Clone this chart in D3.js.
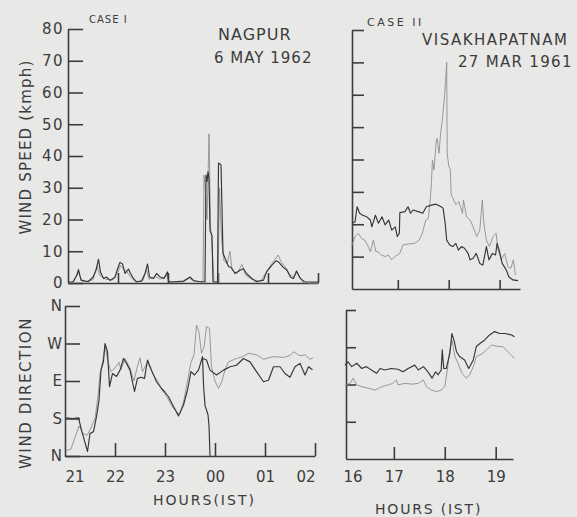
<!DOCTYPE html>
<html>
<head>
<meta charset="utf-8">
<script src="https://cdn.jsdelivr.net/npm/d3@7"></script>
<style>
  html, body { margin: 0; padding: 0; background: #e8e8e6; }
  svg { display: block; }
</style>
</head>
<body>
<div id="chart"></div>
<script>
// tick values and labels
var speedTicks = [0, 10, 20, 30, 40, 50, 60, 70, 80];
var dirTicks = [0, 1, 2, 3, 4];
var dirLabels = ["N", "S", "E", "W", "N"];
var nagpurHours = [21, 22, 23, 24, 25, 26];
var nagpurHourLabels = ["21", "22", "23", "00", "01", "02"];
var vizagHours = [16, 17, 18, 19];
var vizagHourLabels = ["16", "17", "18", "19"];

// case I - Nagpur, wind speed (kmph), [hour, value], hours past midnight run on as 24, 25 ...
var nagpurSpeedDark = [[21.0,0.3],[21.1,0.4],[21.18,2.5],[21.21,4.2],[21.26,0.9],[21.4,0.4],[21.5,1.8],[21.56,4],[21.61,7.5],[21.65,3.4],[21.71,1.4],[21.77,1.9],[21.84,0.8],[21.94,1.8],[21.99,4.4],[22.04,6.5],[22.09,6],[22.14,3],[22.21,4.4],[22.25,3],[22.31,1.4],[22.37,0.4],[22.47,0.6],[22.54,3],[22.59,6],[22.63,1.9],[22.71,1.4],[22.77,3],[22.84,1.9],[22.92,1.4],[22.99,3.5],[23.01,0.4],[23.14,0.4],[23.31,0.6],[23.44,1.9],[23.51,0.8],[23.64,0.4],[23.74,0.4],[23.76,34],[23.78,32],[23.8,35],[23.82,33],[23.84,16.5],[23.88,15],[23.9,0.4],[23.99,0.3],[24.01,37.8],[24.06,37.2],[24.1,9.4],[24.14,7.8],[24.21,5.2],[24.27,4.8],[24.34,3],[24.44,4],[24.51,4.5],[24.57,3],[24.67,1.5],[24.77,0.4],[24.91,0.9],[24.97,3.5],[25.07,5.5],[25.16,7],[25.22,6.5],[25.3,5],[25.38,4],[25.45,1.8],[25.51,1.4],[25.57,3.8],[25.63,1.8],[25.71,0.4],[25.9,0.3],[26.0,0.3]];
var nagpurSpeedLight = [[21.0,0],[21.12,0.5],[21.2,3.8],[21.24,2],[21.3,0.3],[21.5,1],[21.58,5.5],[21.63,2.5],[21.75,1.2],[21.9,1],[22.0,3.5],[22.05,5.5],[22.1,4.5],[22.18,3.5],[22.24,2.2],[22.35,0.3],[22.5,0.8],[22.57,4.2],[22.62,1.2],[22.75,2],[22.85,1.2],[22.97,2.5],[23.03,0.2],[23.3,0.3],[23.43,1.5],[23.52,0.5],[23.7,0.4],[23.72,34],[23.74,31],[23.78,20],[23.82,47],[23.85,18],[23.88,12],[23.92,0.3],[24.0,0.3],[24.03,30],[24.07,14],[24.12,7],[24.18,6],[24.24,10],[24.28,4],[24.38,3],[24.48,5.8],[24.55,2.5],[24.7,1],[24.85,0.6],[24.95,3],[25.05,5.5],[25.12,7],[25.2,8.8],[25.27,6.5],[25.37,4.5],[25.44,2.5],[25.52,2],[25.58,3.5],[25.66,1.2],[25.8,0],[26.0,0]];

// case I - Nagpur, wind direction, 0 = N, 1 = S, 2 = E, 3 = W, 4 = N ; null = pen lift
var nagpurDirDark = [[21.03,1.02],[21.15,1.0],[21.27,1.02],[21.33,0.69],[21.45,0.12],[21.5,0.6],[21.57,0.65],[21.63,1.05],[21.68,1.49],[21.72,2.29],[21.77,2.52],[21.8,3.0],[21.85,2.78],[21.89,1.85],[21.95,2.2],[22.03,2.12],[22.1,2.29],[22.17,2.6],[22.23,2.47],[22.3,2.29],[22.39,1.72],[22.45,2.07],[22.52,2.1],[22.59,2.07],[22.65,2.56],[22.73,2.29],[22.83,1.98],[22.93,1.8],[23.0,1.7],[23.07,1.58],[23.17,1.32],[23.27,1.07],[23.37,1.36],[23.45,1.76],[23.52,2.25],[23.59,2.16],[23.67,2.29],[23.75,2.65],[23.77,1.9],[23.8,1.35],[23.86,1.1],[23.88,0.8],[23.9,0],null,[23.76,2.6],[23.83,2.56],[23.9,2.29],[24.03,2.16],[24.17,2.29],[24.3,2.38],[24.43,2.42],[24.57,2.6],[24.7,2.51],[24.83,2.25],[24.97,1.98],[25.07,2.02],[25.17,2.38],[25.3,2.38],[25.4,2.2],[25.5,2.1],[25.6,2.38],[25.7,2.47],[25.8,2.16],[25.87,2.38],[25.95,2.3]];
var nagpurDirLight = [[21.03,0.15],[21.12,0.18],[21.2,0.5],[21.28,0.8],[21.36,0.6],[21.44,0.55],[21.52,0.75],[21.6,1.0],[21.66,1.6],[21.7,2.2],[21.75,2.5],[21.8,2.95],[21.86,2.5],[21.92,2.25],[22.0,2.35],[22.08,2.5],[22.12,2.3],[22.2,2.6],[22.3,2.35],[22.38,2.0],[22.44,2.35],[22.5,2.62],[22.55,2.25],[22.65,2.5],[22.75,2.2],[22.85,2.0],[22.95,1.75],[23.05,1.55],[23.15,1.3],[23.25,1.15],[23.3,1.12],[23.38,1.5],[23.45,2.0],[23.52,2.5],[23.58,2.7],[23.63,3.49],[23.68,3.3],[23.73,2.74],[23.78,2.9],[23.83,3.45],[23.89,3.4],[23.93,2.38],[24.0,2.0],[24.07,1.8],[24.14,2.0],[24.2,2.3],[24.27,2.51],[24.43,2.6],[24.55,2.65],[24.67,2.74],[24.83,2.7],[24.97,2.58],[25.08,2.62],[25.17,2.65],[25.37,2.63],[25.5,2.68],[25.57,2.78],[25.7,2.67],[25.8,2.7],[25.9,2.58],[25.96,2.62]];

// case II - Visakhapatnam, wind speed (kmph)
var vizagSpeedDark = [[16.1,20.3],[16.16,20.8],[16.2,25.4],[16.25,23.4],[16.31,22.8],[16.39,22.3],[16.46,21.3],[16.49,19.2],[16.56,22.8],[16.62,20.3],[16.69,22.3],[16.75,19.8],[16.82,21.3],[16.88,18.2],[16.95,19.2],[16.99,16.2],[17.03,17.2],[17.04,23.6],[17.14,23.9],[17.2,25.4],[17.25,23.4],[17.3,24.4],[17.4,23.9],[17.49,23.4],[17.56,25.4],[17.66,25.9],[17.75,26.2],[17.85,25.4],[17.89,24.9],[17.93,20.3],[17.96,15.1],[18.02,13.6],[18.08,13.1],[18.14,14.1],[18.19,12.0],[18.25,13.1],[18.31,12.6],[18.38,11.0],[18.42,9.0],[18.48,9.5],[18.54,11.0],[18.61,7.9],[18.67,7.4],[18.74,13.1],[18.79,9.0],[18.86,11.0],[18.92,10.5],[18.95,14.1],[19.0,11.5],[19.05,7.9],[19.13,5.9],[19.18,3.8],[19.26,2.8],[19.36,2.6]];
var vizagSpeedLight = [[16.09,13.1],[16.16,16.2],[16.22,17.2],[16.29,15.6],[16.35,15.1],[16.42,13.1],[16.46,11.5],[16.52,15.1],[16.57,11.5],[16.61,11.5],[16.68,10.5],[16.75,10.0],[16.81,10.5],[16.88,9.0],[16.94,10.0],[17.04,11.0],[17.1,13.6],[17.2,13.9],[17.33,14.1],[17.42,15.1],[17.48,17.2],[17.55,21.3],[17.6,21.8],[17.63,26.4],[17.66,32.6],[17.68,39.8],[17.71,36.7],[17.75,45.0],[17.77,46.5],[17.81,41.9],[17.84,48.0],[17.88,53],[17.92,60],[17.96,70],[17.97,42],[18.0,38],[18.03,37],[18.05,29],[18.07,28.5],[18.14,26],[18.2,27],[18.27,23.4],[18.29,27.5],[18.35,22.3],[18.42,21.3],[18.48,19.2],[18.55,16.2],[18.61,18.2],[18.66,27.5],[18.69,20.3],[18.74,15.1],[18.8,13.1],[18.87,16.2],[18.93,17.2],[18.97,12.0],[19.03,9.0],[19.1,11.0],[19.16,6.9],[19.22,6.4],[19.27,9.0],[19.31,4.3]];

// case II - Visakhapatnam, wind direction
var vizagDirDark = [[16.04,2.52],[16.1,2.61],[16.17,2.48],[16.27,2.57],[16.37,2.43],[16.46,2.48],[16.56,2.39],[16.66,2.3],[16.73,2.43],[16.82,2.39],[16.95,2.43],[17.08,2.41],[17.18,2.34],[17.28,2.43],[17.41,2.52],[17.48,2.39],[17.58,2.48],[17.67,2.34],[17.75,2.17],[17.82,2.34],[17.87,2.26],[17.93,2.39],[17.95,2.93],[17.98,2.43],[18.03,2.43],[18.1,2.84],[18.14,3.37],[18.18,3.19],[18.23,2.88],[18.29,2.75],[18.39,2.66],[18.47,2.43],[18.56,2.66],[18.62,3.02],[18.69,3.1],[18.78,3.19],[18.88,3.33],[18.98,3.42],[19.08,3.37],[19.18,3.37],[19.31,3.33],[19.37,3.28]];
var vizagDirLight = [[16.04,1.99],[16.14,2.03],[16.2,2.17],[16.27,1.99],[16.37,1.94],[16.5,1.9],[16.63,1.85],[16.76,1.94],[16.89,1.99],[16.98,2.03],[17.05,2.12],[17.08,1.99],[17.22,2.03],[17.35,2.01],[17.48,2.03],[17.58,2.12],[17.64,1.94],[17.74,1.85],[17.84,1.81],[17.93,1.85],[18.0,1.94],[18.05,2.39],[18.1,2.93],[18.14,3.19],[18.2,2.75],[18.26,2.57],[18.34,2.3],[18.42,2.17],[18.49,2.26],[18.56,2.48],[18.62,2.75],[18.69,2.79],[18.75,2.84],[18.82,2.93],[18.92,3.06],[19.05,3.02],[19.14,3.02],[19.24,2.88],[19.37,2.7]];

var ink = "#3c3c3c";
var darkPen = "#363636";
var lightPen = "#8e8e8e";
var fontFamily = '"DejaVu Sans", sans-serif';

var svg = d3.select("#chart")
    .append("svg")
    .attr("width", 577)
    .attr("height", 517)
    .style("background", "#e8e8e6");

// scales, one pair per panel (the panels are slightly out of line in the print)
var xNagTop = d3.scaleLinear().domain([21, 26]).range([68, 318]);
var ySpeedL = d3.scaleLinear().domain([0, 80]).range([283, 29]);
var xNagBot = d3.scaleLinear().domain([21, 26]).range([65, 315]);
var yDirL = d3.scaleLinear().domain([0, 4]).range([456, 306]);
var xVizTop = d3.scaleLinear().domain([16.1, 19.4]).range([352, 520]);
var ySpeedR = d3.scaleLinear().domain([0, 80]).range([289, 30]);
var xVizBot = d3.scaleLinear().domain([16.06, 19.34]).range([346, 513]);
var yDirR = d3.scaleLinear().domain([0, 4]).range([459, 310]);

function styleAxis(g, size) {
    g.attr("font-family", fontFamily).attr("font-size", size);
    g.selectAll("path, line").attr("stroke", ink).attr("stroke-width", 1.6);
    g.selectAll("text").attr("fill", ink);
}

function drawSeries(data, x, y, color, width) {
    var line = d3.line()
        .defined(function (d) { return d !== null; })
        .x(function (d) { return x(d[0]); })
        .y(function (d) { return y(d[1]); });
    svg.append("path")
        .datum(data)
        .attr("d", line)
        .attr("fill", "none")
        .attr("stroke", color)
        .attr("stroke-width", width)
        .attr("stroke-linejoin", "round");
}

// ---- case I, wind speed
svg.append("g")
    .attr("transform", "translate(68,0)")
    .call(d3.axisLeft(ySpeedL).tickValues(speedTicks).tickSizeInner(-15).tickSizeOuter(0).tickPadding(4))
    .call(styleAxis, 15)
    .selectAll("text").attr("letter-spacing", 1.5);

svg.append("g")
    .attr("transform", "translate(0,283)")
    .call(d3.axisBottom(xNagTop).tickValues(nagpurHours.slice(1)).tickSizeInner(-10).tickSizeOuter(0).tickFormat(""))
    .call(styleAxis, 15);

drawSeries(nagpurSpeedLight, xNagTop, ySpeedL, lightPen, 0.9);
drawSeries(nagpurSpeedDark, xNagTop, ySpeedL, darkPen, 1.15);

// ---- case I, wind direction
svg.append("g")
    .attr("transform", "translate(65,0)")
    .call(d3.axisLeft(yDirL).tickValues(dirTicks).tickSizeInner(-15).tickSizeOuter(0).tickPadding(3)
        .tickFormat(function (d) { return dirLabels[d]; }))
    .call(styleAxis, 15);

var nagX = svg.append("g")
    .attr("transform", "translate(0,456)")
    .call(d3.axisBottom(xNagBot).tickValues(nagpurHours).tickSizeInner(-13).tickSizeOuter(0).tickPadding(15)
        .tickFormat(function (d, i) { return nagpurHourLabels[i]; }))
    .call(styleAxis, 15);
nagX.selectAll(".tick").filter(function (d, i) { return i === 0; }).select("line").remove();
nagX.selectAll(".tick text")
    .attr("text-anchor", function (d, i) { return i === 0 ? "start" : (i === nagpurHours.length - 1 ? "end" : "middle"); });

drawSeries(nagpurDirLight, xNagBot, yDirL, lightPen, 0.9);
drawSeries(nagpurDirDark, xNagBot, yDirL, darkPen, 1.15);

// ---- case II, wind speed (no labels of its own)
svg.append("g")
    .attr("transform", "translate(352,0)")
    .call(d3.axisLeft(ySpeedR).tickValues(speedTicks.slice(1)).tickSizeInner(-12).tickSizeOuter(0).tickFormat(""))
    .call(styleAxis, 15);

svg.append("g")
    .attr("transform", "translate(0,289)")
    .call(d3.axisBottom(xVizTop).tickValues(vizagHours.slice(1)).tickSizeInner(-9).tickSizeOuter(0).tickFormat(""))
    .call(styleAxis, 15);

drawSeries(vizagSpeedLight, xVizTop, ySpeedR, lightPen, 0.9);
drawSeries(vizagSpeedDark, xVizTop, ySpeedR, darkPen, 1.15);

// ---- case II, wind direction
svg.append("g")
    .attr("transform", "translate(346,0)")
    .call(d3.axisLeft(yDirR).tickValues(dirTicks.slice(1)).tickSizeInner(-10).tickSizeOuter(0).tickFormat(""))
    .call(styleAxis, 15);

var vizX = svg.append("g")
    .attr("transform", "translate(0,459)")
    .call(d3.axisBottom(xVizBot).tickValues(vizagHours).tickSizeInner(-12).tickSizeOuter(0).tickPadding(12)
        .tickFormat(function (d, i) { return vizagHourLabels[i]; }))
    .call(styleAxis, 15);
vizX.selectAll(".tick").filter(function (d, i) { return i === 0; }).select("line").remove();
vizX.selectAll(".tick text")
    .attr("text-anchor", function (d, i) { return i === 0 ? "start" : "middle"; });

drawSeries(vizagDirLight, xVizBot, yDirR, lightPen, 0.9);
drawSeries(vizagDirDark, xVizBot, yDirR, darkPen, 1.15);

// ---- titles and axis names
function label(txt, x, y, size, spacing, anchor, rotate) {
    var t = svg.append("text")
        .attr("font-family", fontFamily)
        .attr("font-size", size)
        .attr("letter-spacing", spacing)
        .attr("fill", ink)
        .attr("text-anchor", anchor || "start")
        .text(txt);
    if (rotate) {
        t.attr("transform", "translate(" + x + "," + y + ") rotate(-90)");
    } else {
        t.attr("x", x).attr("y", y);
    }
    return t;
}

label("CASE I", 89, 23, 10, 1);
label("CASE II", 367, 26, 11, 2.5);
label("NAGPUR", 218, 40, 16, 1);
label("6 MAY 1962", 214, 63, 15, 1);
label("VISAKHAPATNAM", 422, 45, 15, 1.5);
label("27 MAR 1961", 458, 67, 15, 1.3);
label("WIND SPEED (kmph)", 31, 147, 15, 1.2, "middle", true);
label("WIND DIRECTION", 31, 393, 15, 1.6, "middle", true);
label("HOURS(IST)", 153, 505, 14, 2);
label("HOURS (IST)", 375, 514, 14, 1.8);
</script>
</body>
</html>
